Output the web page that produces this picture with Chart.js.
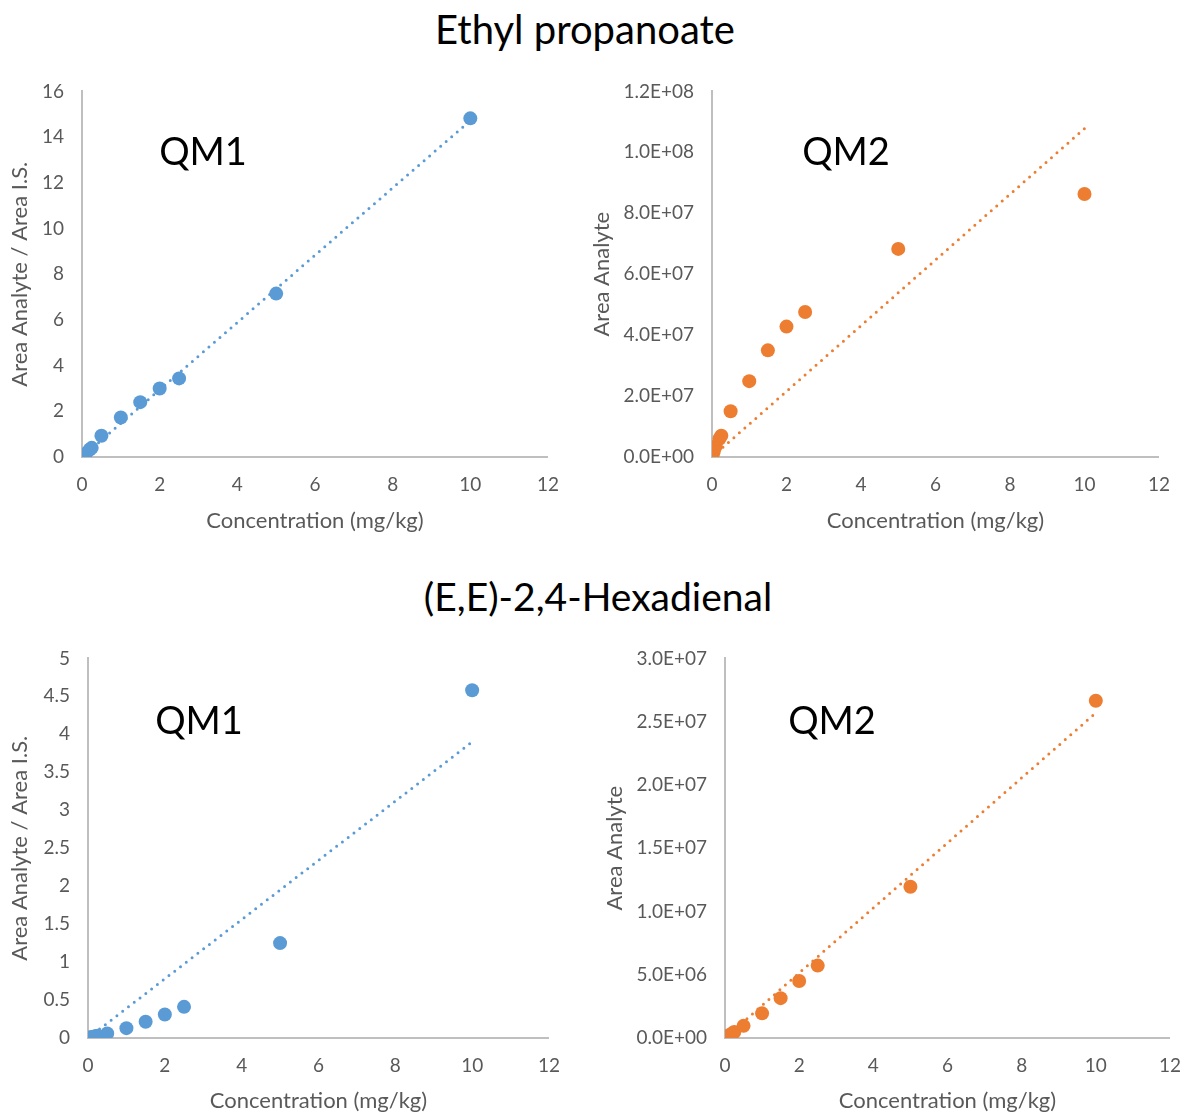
<!DOCTYPE html>
<html><head><meta charset="utf-8">
<script src="https://cdn.jsdelivr.net/npm/chart.js@4"></script>
<style>
html,body{margin:0;padding:0;background:#fff;overflow:hidden;}
body{width:1184px;height:1115px;position:relative;font-family:Lato,sans-serif;}
canvas{position:absolute;}
.title{position:absolute;transform:translate(-50%,-50%);color:#000;white-space:nowrap;line-height:1;}
.qm{position:absolute;transform:translate(-50%,-50%);font-size:38px;color:#000;white-space:nowrap;line-height:1;}
</style></head><body>
<div class="title" style="left:585px;top:29px;font-size:40px">Ethyl propanoate</div>
<div class="title" style="left:598px;top:596px;font-size:39px">(E,E)-2,4-Hexadienal</div>
<canvas id="c1" width="575" height="483" style="left:0px;top:62px"></canvas>
<canvas id="c2" width="601" height="483" style="left:585px;top:62px"></canvas>
<canvas id="c3" width="576" height="486" style="left:0px;top:629px"></canvas>
<canvas id="c4" width="607" height="486" style="left:590px;top:629px"></canvas>
<div class="qm" style="left:203px;top:150px">QM1</div>
<div class="qm" style="left:846px;top:150px">QM2</div>
<div class="qm" style="left:199px;top:719px">QM1</div>
<div class="qm" style="left:832px;top:719px">QM2</div>
<script>
// ---- data ----
const concentration = [0.025, 0.05, 0.1, 0.2, 0.25, 0.5, 1, 1.5, 2, 2.5, 5, 10];
const ethylQM1 = [0.04, 0.08, 0.15, 0.33, 0.40, 0.93, 1.73, 2.40, 3.00, 3.44, 7.15, 14.82];
const ethylQM2 = [1.0e6, 2.0e6, 3.5e6, 6.0e6, 7.0e6, 15.0e6, 24.9e6, 35.0e6, 42.8e6, 47.6e6, 68.3e6, 86.3e6];
const hexQM1 = [0.003, 0.006, 0.012, 0.025, 0.03, 0.06, 0.13, 0.215, 0.31, 0.41, 1.25, 4.58];
const hexQM2 = [0.05e6, 0.1e6, 0.2e6, 0.38e6, 0.47e6, 0.96e6, 1.95e6, 3.15e6, 4.5e6, 5.72e6, 11.95e6, 26.65e6];
const trendX = [0, 10];
const ethylQM1Trend = [0, 14.72];
const ethylQM2Trend = [0, 1.078e8];
const hexQM1Trend = [0, 3.90];
const hexQM2Trend = [0, 2.57e7];
const xTicks = [0, 2, 4, 6, 8, 10, 12];
const ethylQM1Ticks = [0, 2, 4, 6, 8, 10, 12, 14, 16];
const ethylQM2Ticks = [0, 2e7, 4e7, 6e7, 8e7, 1e8, 1.2e8];
const hexQM1Ticks = [0, 0.5, 1, 1.5, 2, 2.5, 3, 3.5, 4, 4.5, 5];
const hexQM2Ticks = [0, 5e6, 1e7, 1.5e7, 2e7, 2.5e7, 3e7];
const xTitle = 'Concentration (mg/kg)';
const yTitleRatio = 'Area Analyte / Area I.S.';
const yTitleArea = 'Area Analyte';

const BLUE = '#5B9BD5', ORANGE = '#ED7D31';
const TICK = '#595959', AXIS = '#BFBFBF';

function sci(v) {
  if (v === 0) return '0.0E+00';
  const e = Math.floor(Math.log10(Math.abs(v)) + 1e-9);
  const m = v / Math.pow(10, e);
  return m.toFixed(1) + 'E+' + String(e).padStart(2, '0');
}

function makeChart(id, c) {
  new Chart(document.getElementById(id), {
    type: 'scatter',
    data: {
      datasets: [
        {
          data: concentration.map((x, i) => ({x: x, y: c.ys[i]})),
          backgroundColor: c.color, borderColor: c.color, borderWidth: 0,
          pointRadius: 7, pointHoverRadius: 7, order: 2
        },
        {
          data: trendX.map((x, i) => ({x: x, y: c.trend[i]})),
          showLine: true, pointRadius: 0, borderColor: c.color, borderWidth: 3,
          borderDash: [0, 7.3], borderCapStyle: 'round', fill: false, order: 1
        }
      ]
    },
    options: {
      responsive: false, animation: false, events: [],
      layout: {padding: 0},
      plugins: {legend: {display: false}, tooltip: {enabled: false}},
      scales: {
        x: {
          type: 'linear', min: 0, max: 12,
          afterBuildTicks: s => { s.ticks = xTicks.map(v => ({value: v})); },
          grid: {display: false, drawTicks: false},
          border: {display: true, color: AXIS, width: 2},
          ticks: {color: TICK, font: {family: 'Lato', size: 19}, padding: 16, maxRotation: 0, autoSkip: false, callback: v => String(v)},
          title: {display: true, text: xTitle, color: TICK, font: {family: 'Lato', size: 22}, padding: {top: 0, bottom: c.xTitlePad}},
          afterFit: s => { s.height = c.xHeight; }
        },
        y: {
          type: 'linear', min: 0, max: c.yTicks[c.yTicks.length - 1],
          afterBuildTicks: s => { s.ticks = c.yTicks.map(v => ({value: v})); },
          grid: {display: false, drawTicks: false},
          border: {display: true, color: AXIS, width: 2},
          ticks: {color: TICK, font: {family: 'Lato', size: 19}, padding: 18, autoSkip: false, callback: c.fmt},
          title: {display: true, text: c.yTitle, color: TICK, font: {family: 'Lato', size: 22}, padding: {top: c.yTitlePad, bottom: 0}},
          afterFit: s => { s.width = c.yWidth; }
        }
      }
    }
  });
}

makeChart('c1', {ys: ethylQM1, trend: ethylQM1Trend, color: BLUE, yTicks: ethylQM1Ticks, fmt: v => String(v),
  yTitle: yTitleRatio, yWidth: 82, xHeight: 88, xTitlePad: 11, yTitlePad: 7});
makeChart('c2', {ys: ethylQM2, trend: ethylQM2Trend, color: ORANGE, yTicks: ethylQM2Ticks, fmt: v => sci(v),
  yTitle: yTitleArea, yWidth: 127, xHeight: 88, xTitlePad: 11, yTitlePad: 4});
makeChart('c3', {ys: hexQM1, trend: hexQM1Trend, color: BLUE, yTicks: hexQM1Ticks, fmt: v => String(v),
  yTitle: yTitleRatio, yWidth: 88, xHeight: 77, xTitlePad: 1, yTitlePad: 7});
makeChart('c4', {ys: hexQM2, trend: hexQM2Trend, color: ORANGE, yTicks: hexQM2Ticks, fmt: v => sci(v),
  yTitle: yTitleArea, yWidth: 135, xHeight: 77, xTitlePad: 1, yTitlePad: 12});
</script>
</body></html>
